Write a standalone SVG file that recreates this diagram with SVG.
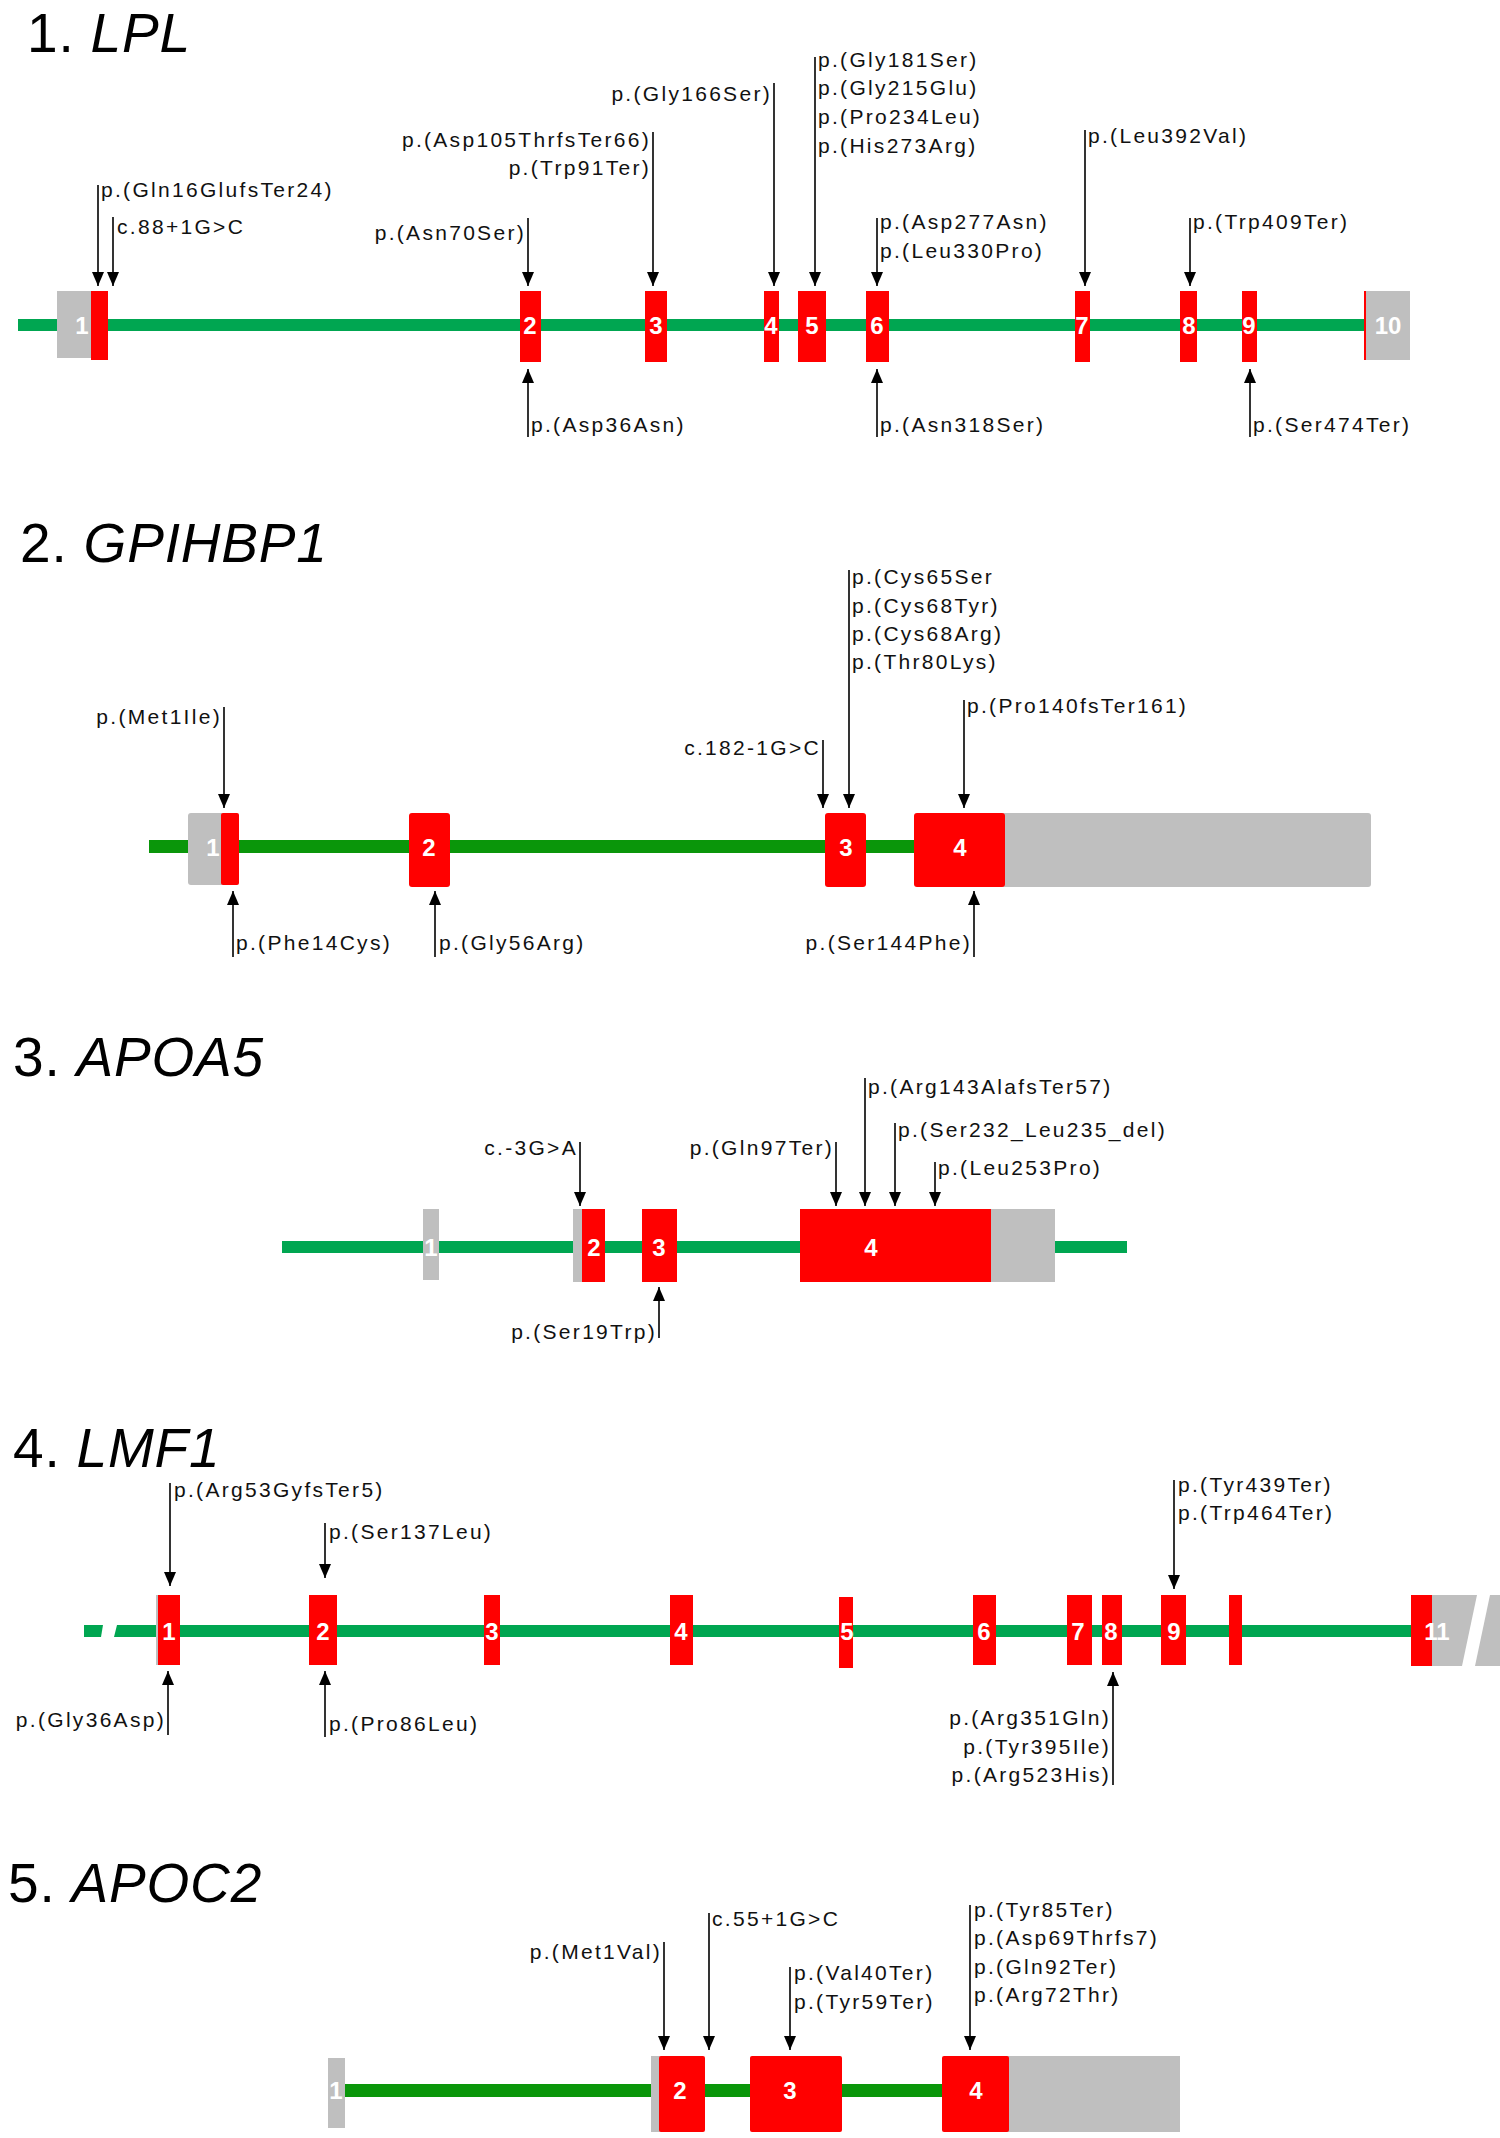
<svg xmlns="http://www.w3.org/2000/svg" width="1500" height="2138" viewBox="0 0 1500 2138">
<style>
.t{font-family:"Liberation Sans",Arial,sans-serif;font-size:55px;fill:#000;letter-spacing:0.8px}
.g{font-style:italic}
.l{font-family:"Liberation Sans",Arial,sans-serif;font-size:21px;fill:#111;letter-spacing:2.3px}
.e{text-anchor:end}
.n{font-family:"Liberation Sans",Arial,sans-serif;font-size:24px;font-weight:bold;fill:#fff;text-anchor:middle}
.r{fill:#ff0000}
.y{fill:#bfbfbf}
.gl{fill:#00a651}
.gd{fill:#0a960a}
.c line{stroke:#000;stroke-width:1.6;marker-end:url(#ah)}
</style>
<defs>
<marker id="ah" viewBox="0 0 14 12" refX="14" refY="6" markerWidth="14" markerHeight="12" markerUnits="userSpaceOnUse" orient="auto">
<path d="M0,0 L14,6 L0,12 z" fill="#000"/>
</marker>
</defs>
<rect width="1500" height="2138" fill="#fff"/>

<!-- 1. LPL -->
<g id="gene-LPL">
<text class="t" x="27" y="52">1. <tspan class="g">LPL</tspan></text>
<rect class="gl" x="18" y="319" width="1347" height="12"/>
<g id="lpl-e1"><rect class="y" x="57" y="291" width="34" height="67"/><rect class="r" x="91" y="291" width="17" height="69"/><text class="n" x="82" y="334">1</text></g>
<g id="lpl-e2"><rect class="r" x="520" y="291" width="21" height="71"/><text class="n" x="530" y="334">2</text></g>
<g id="lpl-e3"><rect class="r" x="645" y="291" width="22" height="71"/><text class="n" x="656" y="334">3</text></g>
<g id="lpl-e4"><rect class="r" x="764" y="291" width="15" height="71"/><text class="n" x="771" y="334">4</text></g>
<g id="lpl-e5"><rect class="r" x="798" y="291" width="28" height="71"/><text class="n" x="812" y="334">5</text></g>
<g id="lpl-e6"><rect class="r" x="866" y="291" width="23" height="71"/><text class="n" x="877" y="334">6</text></g>
<g id="lpl-e7"><rect class="r" x="1075" y="291" width="15" height="71"/><text class="n" x="1082" y="334">7</text></g>
<g id="lpl-e8"><rect class="r" x="1180" y="291" width="17" height="71"/><text class="n" x="1189" y="334">8</text></g>
<g id="lpl-e9"><rect class="r" x="1242" y="291" width="15" height="71"/><text class="n" x="1249" y="334">9</text></g>
<g id="lpl-e10"><rect class="r" x="1364" y="291" width="2" height="69"/><rect class="y" x="1366" y="291" width="44" height="69"/><text class="n" x="1388" y="334">10</text></g>
</g>
<g id="lpl-labels">
<text class="l" x="101" y="197">p.(Gln16GlufsTer24)</text>
<text class="l" x="117" y="234">c.88+1G&gt;C</text>
<text class="l e" x="526" y="240">p.(Asn70Ser)</text>
<text class="l e" x="651" y="147">p.(Asp105ThrfsTer66)</text>
<text class="l e" x="651" y="175">p.(Trp91Ter)</text>
<text class="l e" x="772" y="101">p.(Gly166Ser)</text>
<text class="l" x="818" y="67">p.(Gly181Ser)</text>
<text class="l" x="818" y="95">p.(Gly215Glu)</text>
<text class="l" x="818" y="124">p.(Pro234Leu)</text>
<text class="l" x="818" y="153">p.(His273Arg)</text>
<text class="l" x="880" y="229">p.(Asp277Asn)</text>
<text class="l" x="880" y="258">p.(Leu330Pro)</text>
<text class="l" x="1088" y="143">p.(Leu392Val)</text>
<text class="l" x="1193" y="229">p.(Trp409Ter)</text>
<text class="l" x="531" y="432">p.(Asp36Asn)</text>
<text class="l" x="880" y="432">p.(Asn318Ser)</text>
<text class="l" x="1253" y="432">p.(Ser474Ter)</text>
</g>

<!-- 2. GPIHBP1 -->
<g id="gene-GPIHBP1">
<text class="t" x="20" y="562">2. <tspan class="g">GPIHBP1</tspan></text>
<rect class="gd" x="149" y="840" width="765" height="13"/>
<g id="gp-e1"><rect class="y" x="188" y="813" width="36" height="72" rx="3"/><rect class="r" x="221" y="813" width="18" height="72" rx="2"/><text class="n" x="213" y="856">1</text></g>
<g id="gp-e2"><rect class="r" x="409" y="813" width="41" height="74" rx="3"/><text class="n" x="429" y="856">2</text></g>
<g id="gp-e3"><rect class="r" x="825" y="813" width="41" height="74" rx="3"/><text class="n" x="846" y="856">3</text></g>
<g id="gp-e4"><rect class="y" x="1000" y="813" width="371" height="74" rx="3"/><rect class="r" x="914" y="813" width="91" height="74" rx="3"/><text class="n" x="960" y="856">4</text></g>
</g>
<g id="gp-labels">
<text class="l e" x="222" y="724">p.(Met1Ile)</text>
<text class="l e" x="821" y="755">c.182-1G&gt;C</text>
<text class="l" x="852" y="584">p.(Cys65Ser</text>
<text class="l" x="852" y="613">p.(Cys68Tyr)</text>
<text class="l" x="852" y="641">p.(Cys68Arg)</text>
<text class="l" x="852" y="669">p.(Thr80Lys)</text>
<text class="l" x="967" y="713">p.(Pro140fsTer161)</text>
<text class="l" x="236" y="950">p.(Phe14Cys)</text>
<text class="l" x="439" y="950">p.(Gly56Arg)</text>
<text class="l e" x="972" y="950">p.(Ser144Phe)</text>
</g>

<!-- 3. APOA5 -->
<g id="gene-APOA5">
<text class="t" x="13" y="1076">3. <tspan class="g">APOA5</tspan></text>
<rect class="gl" x="282" y="1241" width="845" height="12"/>
<g id="a5-e1"><rect class="y" x="423" y="1209" width="16" height="71"/><text class="n" x="431" y="1256">1</text></g>
<g id="a5-e2"><rect class="y" x="573" y="1209" width="9" height="73"/><rect class="r" x="582" y="1209" width="23" height="73"/><text class="n" x="594" y="1256">2</text></g>
<g id="a5-e3"><rect class="r" x="642" y="1209" width="35" height="73"/><text class="n" x="659" y="1256">3</text></g>
<g id="a5-e4"><rect class="r" x="800" y="1209" width="191" height="73"/><rect class="y" x="991" y="1209" width="64" height="73"/><text class="n" x="871" y="1256">4</text></g>
</g>
<g id="a5-labels">
<text class="l e" x="578" y="1155">c.-3G&gt;A</text>
<text class="l e" x="834" y="1155">p.(Gln97Ter)</text>
<text class="l" x="868" y="1094">p.(Arg143AlafsTer57)</text>
<text class="l" x="898" y="1137">p.(Ser232_Leu235_del)</text>
<text class="l" x="938" y="1175">p.(Leu253Pro)</text>
<text class="l e" x="657" y="1339">p.(Ser19Trp)</text>
</g>

<!-- 4. LMF1 -->
<g id="gene-LMF1">
<text class="t" x="13" y="1467">4. <tspan class="g">LMF1</tspan></text>
<polygon class="gl" points="84,1625 103,1625 101,1637 84,1637"/>
<polygon class="gl" points="117,1625 1411,1625 1411,1637 114,1637"/>
<g id="lmf-e1"><rect class="y" x="156" y="1595" width="4" height="70"/><rect class="r" x="158" y="1595" width="22" height="70"/><text class="n" x="169" y="1640">1</text></g>
<g id="lmf-e2"><rect class="r" x="309" y="1595" width="28" height="70"/><text class="n" x="323" y="1640">2</text></g>
<g id="lmf-e3"><rect class="r" x="484" y="1595" width="16" height="70"/><text class="n" x="492" y="1640">3</text></g>
<g id="lmf-e4"><rect class="r" x="670" y="1595" width="23" height="70"/><text class="n" x="681" y="1640">4</text></g>
<g id="lmf-e5"><rect class="r" x="839" y="1597" width="14" height="71"/><text class="n" x="847" y="1640">5</text></g>
<g id="lmf-e6"><rect class="r" x="973" y="1595" width="23" height="70"/><text class="n" x="984" y="1640">6</text></g>
<g id="lmf-e7"><rect class="r" x="1067" y="1595" width="25" height="70"/><text class="n" x="1078" y="1640">7</text></g>
<g id="lmf-e8"><rect class="r" x="1102" y="1595" width="20" height="70"/><text class="n" x="1111" y="1640">8</text></g>
<g id="lmf-e9"><rect class="r" x="1161" y="1595" width="25" height="70"/><text class="n" x="1174" y="1640">9</text></g>
<g id="lmf-e10"><rect class="r" x="1229" y="1595" width="13" height="70"/></g>
<g id="lmf-e11"><rect class="r" x="1411" y="1595" width="22" height="71"/><polygon class="y" points="1432,1595 1477,1595 1462,1666 1432,1666"/><polygon class="y" points="1490,1595 1500,1595 1500,1666 1475,1666"/><text class="n" x="1437" y="1640">11</text></g>
</g>
<g id="lmf-labels">
<text class="l" x="174" y="1497">p.(Arg53GyfsTer5)</text>
<text class="l" x="329" y="1539">p.(Ser137Leu)</text>
<text class="l" x="1178" y="1492">p.(Tyr439Ter)</text>
<text class="l" x="1178" y="1520">p.(Trp464Ter)</text>
<text class="l e" x="166" y="1727">p.(Gly36Asp)</text>
<text class="l" x="329" y="1731">p.(Pro86Leu)</text>
<text class="l e" x="1111" y="1725">p.(Arg351Gln)</text>
<text class="l e" x="1111" y="1754">p.(Tyr395Ile)</text>
<text class="l e" x="1111" y="1782">p.(Arg523His)</text>
</g>

<!-- 5. APOC2 -->
<g id="gene-APOC2">
<text class="t" x="8" y="1902">5. <tspan class="g">APOC2</tspan></text>
<rect class="gd" x="345" y="2084" width="597" height="13"/>
<g id="c2-e1"><rect class="y" x="328" y="2058" width="17" height="70"/><text class="n" x="336" y="2099">1</text></g>
<g id="c2-e2"><rect class="y" x="651" y="2056" width="10" height="76"/><rect class="r" x="659" y="2056" width="46" height="76" rx="2"/><text class="n" x="680" y="2099">2</text></g>
<g id="c2-e3"><rect class="r" x="750" y="2056" width="92" height="76" rx="2"/><text class="n" x="790" y="2099">3</text></g>
<g id="c2-e4"><rect class="y" x="1005" y="2056" width="175" height="76"/><rect class="r" x="942" y="2056" width="67" height="76" rx="2"/><text class="n" x="976" y="2099">4</text></g>
</g>
<g id="c2-labels">
<text class="l e" x="662" y="1959">p.(Met1Val)</text>
<text class="l" x="712" y="1926">c.55+1G&gt;C</text>
<text class="l" x="794" y="1980">p.(Val40Ter)</text>
<text class="l" x="794" y="2009">p.(Tyr59Ter)</text>
<text class="l" x="974" y="1917">p.(Tyr85Ter)</text>
<text class="l" x="974" y="1945">p.(Asp69Thrfs7)</text>
<text class="l" x="974" y="1974">p.(Gln92Ter)</text>
<text class="l" x="974" y="2002">p.(Arg72Thr)</text>
</g>

<!-- connectors -->
<g id="connectors" class="c">
<line x1="98" y1="185" x2="98" y2="286"/>
<line x1="113" y1="217" x2="113" y2="286"/>
<line x1="528" y1="218" x2="528" y2="286"/>
<line x1="653" y1="132" x2="653" y2="286"/>
<line x1="774" y1="83" x2="774" y2="286"/>
<line x1="815" y1="57" x2="815" y2="286"/>
<line x1="877" y1="218" x2="877" y2="286"/>
<line x1="1085" y1="130" x2="1085" y2="286"/>
<line x1="1190" y1="218" x2="1190" y2="286"/>
<line x1="528" y1="437" x2="528" y2="369"/>
<line x1="877" y1="437" x2="877" y2="369"/>
<line x1="1250" y1="437" x2="1250" y2="369"/>

<line x1="224" y1="707" x2="224" y2="808"/>
<line x1="823" y1="740" x2="823" y2="808"/>
<line x1="849" y1="570" x2="849" y2="808"/>
<line x1="964" y1="700" x2="964" y2="808"/>
<line x1="233" y1="957" x2="233" y2="891"/>
<line x1="435" y1="957" x2="435" y2="891"/>
<line x1="974" y1="957" x2="974" y2="891"/>

<line x1="580" y1="1142" x2="580" y2="1206"/>
<line x1="836" y1="1142" x2="836" y2="1206"/>
<line x1="865" y1="1078" x2="865" y2="1206"/>
<line x1="895" y1="1123" x2="895" y2="1206"/>
<line x1="935" y1="1162" x2="935" y2="1206"/>
<line x1="659" y1="1338" x2="659" y2="1287"/>

<line x1="170" y1="1483" x2="170" y2="1586"/>
<line x1="325" y1="1523" x2="325" y2="1578"/>
<line x1="1174" y1="1480" x2="1174" y2="1589"/>
<line x1="168" y1="1735" x2="168" y2="1671"/>
<line x1="325" y1="1737" x2="325" y2="1671"/>
<line x1="1113" y1="1785" x2="1113" y2="1672"/>

<line x1="664" y1="1942" x2="664" y2="2050"/>
<line x1="709" y1="1913" x2="709" y2="2050"/>
<line x1="790" y1="1967" x2="790" y2="2050"/>
<line x1="970" y1="1905" x2="970" y2="2050"/>
</g>
</svg>
